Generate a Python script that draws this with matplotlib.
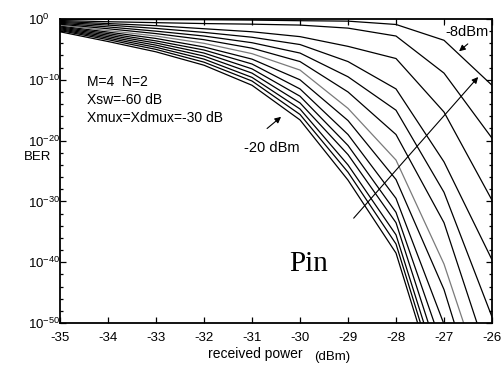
import matplotlib
matplotlib.use("Agg")
import matplotlib.pyplot as plt
import numpy as np

# received power (dBm)
power = [-35, -34, -33, -32, -31, -30, -29, -28, -27, -26]
# log10(BER) per curve (Pin increasing from c00 to c13) at each received power
c00 = [-2.1, -3.7, -5.4, -7.6, -10.9, -16.6, -26.5, -38.5, -64.0, -90.0]
c01 = [-1.9, -3.4, -5.0, -7.1, -10.2, -15.7, -25.2, -37.0, -62.5, -88.0]
c02 = [-1.75, -3.15, -4.65, -6.6, -9.6, -14.8, -24.0, -35.5, -60.5, -86.0]
c03 = [-1.6, -2.9, -4.3, -6.1, -8.9, -13.8, -22.3, -33.5, -58.0, -83.0]
c04 = [-1.45, -2.65, -3.95, -5.6, -8.2, -12.7, -20.8, -31.8, -54.6, -80.0]
c05 = [-1.3, -2.4, -3.6, -5.1, -7.4, -11.5, -19.0, -29.5, -50.2, -76.0]
c06 = [-1.15, -2.15, -3.2, -4.6, -6.6, -10.0, -16.7, -26.4, -44.5, -70.0]
c07 = [-1.0, -1.9, -2.8, -4.0, -5.7, -8.4, -14.7, -23.2, -40.3, -64.0]
c08 = [-0.85, -1.6, -2.4, -3.4, -4.8, -7.0, -12.0, -19.0, -33.5, -57.5]
c09 = [-0.7, -1.3, -2.0, -2.8, -3.9, -5.6, -9.5, -15.0, -28.5, -49.0]
c10 = [-0.55, -1.0, -1.55, -2.2, -3.0, -4.2, -7.0, -11.5, -23.5, -39.6]
c11 = [-0.4, -0.75, -1.1, -1.6, -2.1, -2.9, -4.5, -6.5, -15.3, -29.8]
c12 = [-0.25, -0.45, -0.6, -0.75, -0.85, -1.0, -1.5, -2.8, -8.9, -19.6]
c13 = [-0.05, -0.07, -0.1, -0.12, -0.18, -0.28, -0.35, -0.9, -3.5, -10.9]
curves = [c00, c01, c02, c03, c04, c05, c06, c07, c08, c09, c10, c11, c12, c13]
gray_index = 7

y_decades = [0, -10, -20, -30, -40, -50]

plt.rcParams['font.family'] = ['Liberation Sans', 'DejaVu Sans']
plt.rcParams['mathtext.fontset'] = 'custom'
plt.rcParams['mathtext.rm'] = 'Liberation Sans'
plt.rcParams['mathtext.it'] = 'Liberation Sans:italic'
plt.rcParams['mathtext.bf'] = 'Liberation Sans:bold'

fig = plt.figure(figsize=(5.04, 3.65), dpi=100)
ax = fig.add_axes([60/504, 1-323/365, 432/504, 304/365])

for i, c in enumerate(curves):
    col = '#7a7a7a' if i == gray_index else 'black'
    ax.plot(power, 10.0 ** np.array(c), color=col, lw=0.9, clip_on=True)

ax.set_yscale('log')
ax.set_xlim(-35, -26)
ax.set_ylim(1e-50, 1)
ax.set_xticks(power)
ax.set_xticklabels([str(p) for p in power])
ax.set_yticks([10.0**k for k in y_decades])
ax.set_yticklabels([r'$\mathregular{10^{%d}}$' % k for k in y_decades])
ax.yaxis.set_minor_locator(matplotlib.ticker.FixedLocator(
    [10.0**k for k in range(-50, 1, 2) if k % 10 != 0]))
ax.yaxis.set_minor_formatter(matplotlib.ticker.NullFormatter())
ax.tick_params(which='both', direction='in', top=True, right=True, labelsize=9.5, width=0.9)
ax.tick_params(which='major', length=4)
ax.tick_params(which='minor', length=2.5)
ax.tick_params(axis='y', which='major', pad=23)
ax.tick_params(axis='x', which='major', pad=6.5)
for lab in ax.get_yticklabels():
    lab.set_horizontalalignment('left')
for s in ax.spines.values():
    s.set_linewidth(1.3)

fig.text(38/504, 1-157/365, 'BER', fontsize=9.5, ha='center', va='center')
fig.text(255/504, 1-354/365, 'received power', fontsize=10, ha='center', va='center')
fig.text(332/504, 1-357/365, '(dBm)', fontsize=9.5, ha='center', va='center')

ax.text(-34.44, 10**-10.4, 'M=4  N=2', fontsize=10, ha='left', va='center')
ax.text(-34.44, 10**-13.3, 'Xsw=-60 dB', fontsize=10, ha='left', va='center')
ax.text(-34.44, 10**-16.3, 'Xmux=Xdmux=-30 dB', fontsize=10, ha='left', va='center')

ax.text(-30.58, 10**-21.2, '-20 dBm', fontsize=10.5, ha='center', va='center')
ax.annotate('', xy=(-30.35, 10**-15.8), xytext=(-30.73, 10**-18.3),
            arrowprops=dict(arrowstyle='-|>', color='black', lw=0.8, mutation_scale=9))
ax.text(-26.52, 10**-2.1, '-8dBm', fontsize=10.5, ha='center', va='center',
        bbox=dict(facecolor='white', edgecolor='none', pad=0.5))
ax.annotate('', xy=(-26.73, 10**-5.6), xytext=(-26.46, 10**-3.8),
            arrowprops=dict(arrowstyle='-|>', color='black', lw=0.8, mutation_scale=9))
ax.annotate('', xy=(-26.25, 10**-9.2), xytext=(-28.92, 10**-33.1),
            arrowprops=dict(arrowstyle='-|>', color='black', lw=0.8, mutation_scale=9))
ax.text(-29.83, 10**-40.3, 'Pin', fontsize=21, ha='center', va='center',
        family=['Liberation Serif', 'DejaVu Serif'])

fig.savefig('out.png', dpi=100)
